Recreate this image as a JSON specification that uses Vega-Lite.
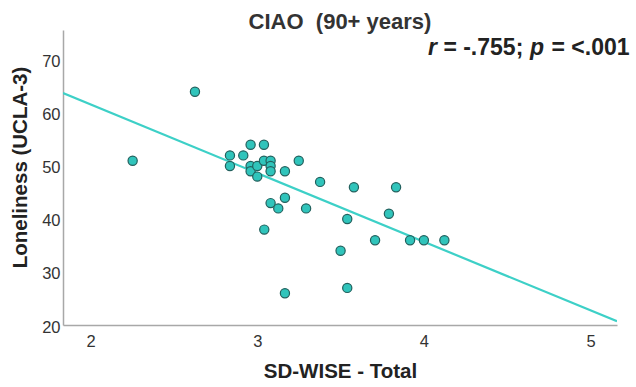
{
  "$schema": "https://vega.github.io/schema/vega-lite/v6.json",
  "width": 554,
  "height": 295,
  "autosize": {"type": "none"},
  "padding": {"left": 63, "top": 30, "right": 19, "bottom": 62},
  "background": "white",
  "config": {
    "font": "Liberation Sans",
    "view": {"stroke": null},
    "axis": {"grid": false, "ticks": false, "domainColor": "#a8a8a8", "domainWidth": 1.5, "labelColor": "#333333", "labelFontSize": 16.5, "labelFont": "Liberation Sans", "titleFont": "Liberation Sans", "titleColor": "#222222", "titleFontWeight": "bold", "titleFontSize": 20.5}
  },
  "title": {"text": "CIAO\u00a0 (90+ years)", "fontSize": 22, "fontWeight": "bold", "color": "#333333", "anchor": "middle", "offset": -4, "font": "Liberation Sans"},
  "datasets": {
    "points": [
      {"wise": 2.626, "lone": 64},
      {"wise": 2.252, "lone": 51},
      {"wise": 2.836, "lone": 52},
      {"wise": 2.836, "lone": 50},
      {"wise": 2.916, "lone": 52},
      {"wise": 2.96, "lone": 54},
      {"wise": 3.04, "lone": 54},
      {"wise": 2.96, "lone": 50},
      {"wise": 2.96, "lone": 49},
      {"wise": 3.0, "lone": 50},
      {"wise": 3.0, "lone": 48},
      {"wise": 3.04, "lone": 51},
      {"wise": 3.08, "lone": 51},
      {"wise": 3.08, "lone": 50},
      {"wise": 3.08, "lone": 49},
      {"wise": 3.166, "lone": 49},
      {"wise": 3.249, "lone": 51},
      {"wise": 3.377, "lone": 47},
      {"wise": 3.58, "lone": 46},
      {"wise": 3.833, "lone": 46},
      {"wise": 3.08, "lone": 43},
      {"wise": 3.126, "lone": 42},
      {"wise": 3.166, "lone": 44},
      {"wise": 3.293, "lone": 42},
      {"wise": 3.54, "lone": 40},
      {"wise": 3.79, "lone": 41},
      {"wise": 3.042, "lone": 38},
      {"wise": 3.707, "lone": 36},
      {"wise": 3.917, "lone": 36},
      {"wise": 4.0, "lone": 36},
      {"wise": 4.123, "lone": 36},
      {"wise": 3.5, "lone": 34},
      {"wise": 3.54, "lone": 27},
      {"wise": 3.166, "lone": 26}
    ],
    "fit": [
      {"wise": 1.834, "lone": 63.75},
      {"wise": 5.159, "lone": 20.7}
    ],
    "italic": [
      {"wise": 4.025, "lone": 72.3, "label": "r"},
      {"wise": 4.637, "lone": 72.3, "label": "p"}
    ],
    "plain": [
      {"wise": 4.117, "lone": 72.3, "label": "= -.755;"},
      {"wise": 4.766, "lone": 72.3, "label": "= <.001"}
    ]
  },
  "encoding": {
    "x": {"field": "wise", "type": "quantitative", "scale": {"domain": [1.834, 5.159], "nice": false, "zero": false}, "axis": {"values": [2, 3, 4, 5], "title": "SD-WISE - Total", "labelPadding": 8, "titlePadding": 12}},
    "y": {"field": "lone", "type": "quantitative", "scale": {"domain": [20, 75.66], "nice": false, "zero": false}, "axis": {"values": [20, 30, 40, 50, 60, 70], "title": "Loneliness (UCLA-3)", "labelPadding": 3, "labelOffset": 2, "titleAngle": 270, "titleX": -43, "titleY": 137, "titleAlign": "center", "titleBaseline": "middle"}}
  },
  "layer": [
    {"data": {"name": "fit"}, "mark": {"type": "line", "color": "#3dd0c7", "strokeWidth": 2.2, "clip": true}},
    {"data": {"name": "points"}, "mark": {"type": "point", "shape": "circle", "filled": true, "size": 85, "fill": "#30c4bb", "stroke": "#22605d", "strokeWidth": 1.2, "opacity": 1}},
    {"data": {"name": "italic"}, "mark": {"type": "text", "align": "left", "baseline": "middle", "fontSize": 23, "fontWeight": "bold", "fontStyle": "italic", "color": "#222222"}, "encoding": {"text": {"field": "label"}}},
    {"data": {"name": "plain"}, "mark": {"type": "text", "align": "left", "baseline": "middle", "fontSize": 23, "fontWeight": "bold", "color": "#222222"}, "encoding": {"text": {"field": "label"}}}
  ]
}
